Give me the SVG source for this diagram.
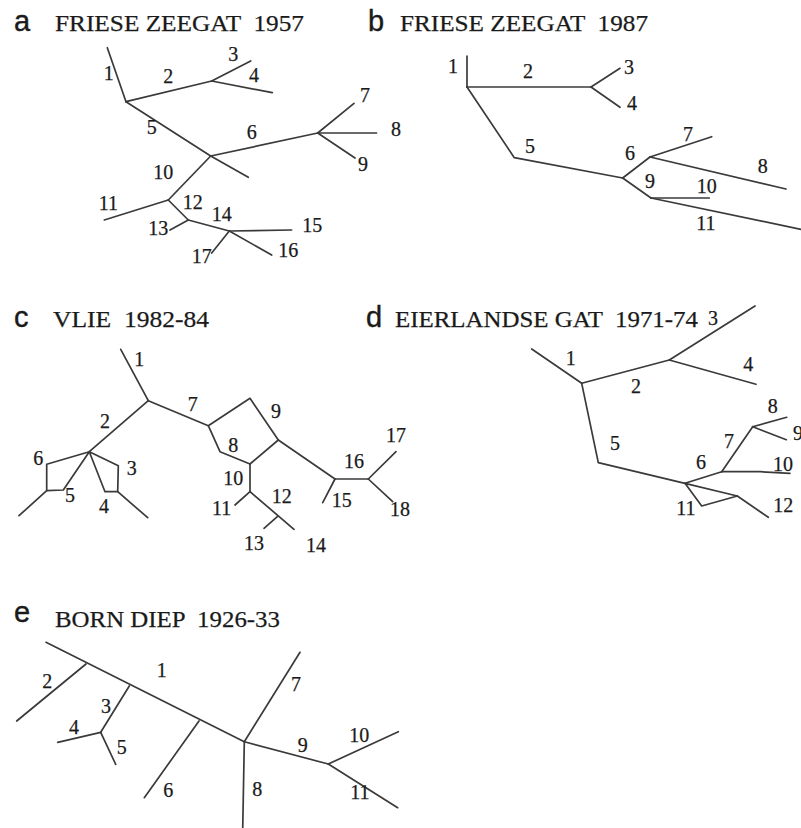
<svg xmlns="http://www.w3.org/2000/svg" width="801" height="828" viewBox="0 0 801 828">
<style>
.bg{fill:#ffffff}
.edge{fill:none;stroke:#3a3a3a;stroke-width:1.7;stroke-linecap:round;stroke-linejoin:round}
.letter{font-family:"Liberation Sans",Arial,sans-serif;font-size:29px;fill:#1a1a1a;stroke:#1a1a1a;stroke-width:0.4}
.title{font-family:"Liberation Serif","Times New Roman",serif;font-size:24px;fill:#1a1a1a;stroke:#1a1a1a;stroke-width:0.25}
.lab{font-family:"Liberation Serif","Times New Roman",serif;font-size:20px;fill:#1a1a1a;stroke:#1a1a1a;stroke-width:0.25;text-anchor:middle}
</style>
<rect class="bg" x="0" y="0" width="801" height="828"/>

<!-- Panel a -->
<g id="panel-a">
<text class="letter" x="14" y="31">a</text>
<text class="title" x="55" y="31" xml:space="preserve" textLength="249" lengthAdjust="spacingAndGlyphs">FRIESE ZEEGAT  1957</text>
<g id="a-connectors">
<path class="edge" d="M107.3,47.7 L126,101.7"/>
<path class="edge" d="M126,101.7 L211.7,81"/>
<path class="edge" d="M211.7,81 L250.7,61"/>
<path class="edge" d="M211.7,81 L272.3,92.7"/>
<path class="edge" d="M126,101.7 L210.7,156 L248.3,177.3"/>
<path class="edge" d="M210.7,156 L317.7,133"/>
<path class="edge" d="M317.7,133 L354,103.3"/>
<path class="edge" d="M317.7,133 L376.5,133"/>
<path class="edge" d="M317.7,133 L355,158"/>
<path class="edge" d="M210.7,156 L168.3,200"/>
<path class="edge" d="M168.3,200 L104.3,220"/>
<path class="edge" d="M168.3,200 L188.3,220"/>
<path class="edge" d="M188.3,220 L170,230"/>
<path class="edge" d="M188.3,220 L229.3,231"/>
<path class="edge" d="M229.3,231 L291.7,230"/>
<path class="edge" d="M229.3,231 L271.7,255"/>
<path class="edge" d="M229.3,231 L211.7,253"/>
</g>
<g id="a-labels">
<text class="lab" x="108.7" y="80">1</text>
<text class="lab" x="168.3" y="83.3">2</text>
<text class="lab" x="233.3" y="60.7">3</text>
<text class="lab" x="254" y="81.7">4</text>
<text class="lab" x="151.7" y="134.3">5</text>
<text class="lab" x="251.7" y="139.3">6</text>
<text class="lab" x="365" y="101.7">7</text>
<text class="lab" x="396" y="136">8</text>
<text class="lab" x="363" y="170.7">9</text>
<text class="lab" x="163.3" y="179.3">10</text>
<text class="lab" x="108.3" y="210">11</text>
<text class="lab" x="192.7" y="209.3">12</text>
<text class="lab" x="158.3" y="235">13</text>
<text class="lab" x="221.7" y="220.7">14</text>
<text class="lab" x="312.3" y="231.7">15</text>
<text class="lab" x="288.3" y="256.7">16</text>
<text class="lab" x="201.7" y="263.3">17</text>
</g>
</g>

<!-- Panel b -->
<g id="panel-b">
<text class="letter" x="368" y="31">b</text>
<text class="title" x="400" y="31" xml:space="preserve" textLength="248" lengthAdjust="spacingAndGlyphs">FRIESE ZEEGAT  1987</text>
<g id="b-connectors">
<path class="edge" d="M467,56 L467,87"/>
<path class="edge" d="M467,87 L591,87"/>
<path class="edge" d="M591,87 L620,68.3"/>
<path class="edge" d="M591,87 L620,107.3"/>
<path class="edge" d="M467,87 L514.3,157.7 L622.7,178"/>
<path class="edge" d="M622.7,178 L650,157"/>
<path class="edge" d="M650,157 L711.7,136.7"/>
<path class="edge" d="M650,157 L786,189"/>
<path class="edge" d="M622.7,178 L651,198"/>
<path class="edge" d="M651,198 L709.3,198"/>
<path class="edge" d="M651,198 L801,229.3"/>
</g>
<g id="b-labels">
<text class="lab" x="453" y="73.3">1</text>
<text class="lab" x="528" y="78.3">2</text>
<text class="lab" x="629" y="74">3</text>
<text class="lab" x="632" y="110">4</text>
<text class="lab" x="530" y="153">5</text>
<text class="lab" x="630" y="160">6</text>
<text class="lab" x="688" y="141">7</text>
<text class="lab" x="762.7" y="173.3">8</text>
<text class="lab" x="650" y="188.3">9</text>
<text class="lab" x="706.7" y="193.3">10</text>
<text class="lab" x="706" y="230">11</text>
</g>
</g>

<!-- Panel c -->
<g id="panel-c">
<text class="letter" x="14" y="327">c</text>
<text class="title" x="53" y="327" xml:space="preserve" textLength="156" lengthAdjust="spacingAndGlyphs">VLIE  1982-84</text>
<g id="c-connectors">
<path class="edge" d="M120.7,349.3 L148.3,400.7"/>
<path class="edge" d="M148.3,400.7 L89.3,451.7"/>
<path class="edge" d="M148.3,400.7 L208.3,425.7"/>
<path class="edge" d="M208.3,425.7 L250,398.3 L278.3,440 L250,464 L220,451.7 Z"/>
<path class="edge" d="M278.3,440 L335,479"/>
<path class="edge" d="M335,479 L322.7,502.7"/>
<path class="edge" d="M335,479 L368.3,479"/>
<path class="edge" d="M368.3,479 L396,451.7"/>
<path class="edge" d="M368.3,479 L392.7,501.7"/>
<path class="edge" d="M250,464 L250,491.7"/>
<path class="edge" d="M250,491.7 L235,505"/>
<path class="edge" d="M250,491.7 L294,529.3"/>
<path class="edge" d="M277.3,516.7 L264,528.3"/>
<path class="edge" d="M89.3,451.7 L46.7,464.3 L46.7,490.7 L63.3,490 Z"/>
<path class="edge" d="M46.7,490.7 L19,515.7"/>
<path class="edge" d="M89.3,451.7 L118.3,465.7 L117.7,491.7 L105,491.7 Z"/>
<path class="edge" d="M117.7,491.7 L147.7,517.7"/>
</g>
<g id="c-labels">
<text class="lab" x="139.3" y="366">1</text>
<text class="lab" x="105" y="427.7">2</text>
<text class="lab" x="131.7" y="475">3</text>
<text class="lab" x="104" y="512.7">4</text>
<text class="lab" x="70" y="501.7">5</text>
<text class="lab" x="38.3" y="465">6</text>
<text class="lab" x="192.7" y="411">7</text>
<text class="lab" x="233.3" y="451.7">8</text>
<text class="lab" x="276" y="417.7">9</text>
<text class="lab" x="233.3" y="485">10</text>
<text class="lab" x="221.7" y="515">11</text>
<text class="lab" x="281.7" y="503.3">12</text>
<text class="lab" x="254" y="550">13</text>
<text class="lab" x="316" y="551.7">14</text>
<text class="lab" x="341.7" y="506.7">15</text>
<text class="lab" x="354" y="468.3">16</text>
<text class="lab" x="396" y="441.7">17</text>
<text class="lab" x="400" y="516">18</text>
</g>
</g>

<!-- Panel d -->
<g id="panel-d">
<text class="letter" x="366" y="327">d</text>
<text class="title" x="395" y="327" xml:space="preserve" textLength="303" lengthAdjust="spacingAndGlyphs">EIERLANDSE GAT  1971-74</text>
<g id="d-connectors">
<path class="edge" d="M531.7,349 L581.7,383.3"/>
<path class="edge" d="M581.7,383.3 L669.3,360"/>
<path class="edge" d="M669.3,360 L755,306"/>
<path class="edge" d="M669.3,360 L756,384.3"/>
<path class="edge" d="M581.7,383.3 L598.3,462.7 L685,483.3"/>
<path class="edge" d="M685,483.3 L721.7,471.7"/>
<path class="edge" d="M721.7,471.7 L752.7,426.7"/>
<path class="edge" d="M752.7,426.7 L786.7,417.3"/>
<path class="edge" d="M752.7,426.7 L786.3,439.7"/>
<path class="edge" d="M721.7,471.7 L760,471.7 L790,473.3"/>
<path class="edge" d="M685,483.3 L701.7,506 L737.3,496 Z"/>
<path class="edge" d="M737.3,496 L768.3,517.3"/>
</g>
<g id="d-labels">
<text class="lab" x="570.7" y="365">1</text>
<text class="lab" x="636" y="392.7">2</text>
<text class="lab" x="713" y="325">3</text>
<text class="lab" x="748.3" y="370.7">4</text>
<text class="lab" x="615" y="450">5</text>
<text class="lab" x="701" y="469">6</text>
<text class="lab" x="729" y="448">7</text>
<text class="lab" x="772.7" y="413">8</text>
<text class="lab" x="798" y="440">9</text>
<text class="lab" x="783" y="470.7">10</text>
<text class="lab" x="686" y="515">11</text>
<text class="lab" x="783.3" y="511.7">12</text>
</g>
</g>

<!-- Panel e -->
<g id="panel-e">
<text class="letter" x="14" y="622">e</text>
<text class="title" x="55" y="627" xml:space="preserve" textLength="225" lengthAdjust="spacingAndGlyphs">BORN DIEP  1926-33</text>
<g id="e-connectors">
<path class="edge" d="M46,642.3 L244.3,741.7"/>
<path class="edge" d="M86,664 L16.7,721"/>
<path class="edge" d="M129.3,686 L100.7,732.3"/>
<path class="edge" d="M100.7,732.3 L57.7,742.3"/>
<path class="edge" d="M100.7,732.3 L115.7,764.3"/>
<path class="edge" d="M199,721 L144.3,797.7"/>
<path class="edge" d="M244.3,741.7 L300,652.3"/>
<path class="edge" d="M244.3,741.7 L242.7,830"/>
<path class="edge" d="M244.3,741.7 L328.3,764"/>
<path class="edge" d="M328.3,764 L398.3,731.7"/>
<path class="edge" d="M328.3,764 L397.7,807.7"/>
</g>
<g id="e-labels">
<text class="lab" x="161.7" y="677.3">1</text>
<text class="lab" x="47.3" y="688.3">2</text>
<text class="lab" x="106" y="712.7">3</text>
<text class="lab" x="74" y="734">4</text>
<text class="lab" x="121.7" y="754">5</text>
<text class="lab" x="168.3" y="797.3">6</text>
<text class="lab" x="296" y="690.7">7</text>
<text class="lab" x="257.3" y="796">8</text>
<text class="lab" x="302.7" y="751.7">9</text>
<text class="lab" x="359.3" y="741.7">10</text>
<text class="lab" x="360" y="799.3">11</text>
</g>
</g>
</svg>
